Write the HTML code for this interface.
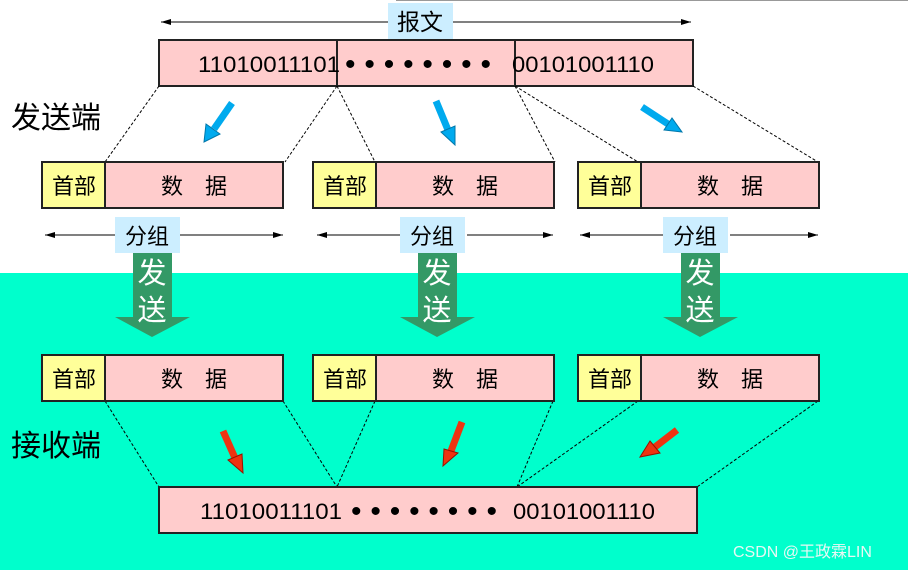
<!DOCTYPE html>
<html><head><meta charset="utf-8"><style>
html,body{margin:0;padding:0;background:#fff}
svg{display:block}
text{font-family:"Liberation Sans","Noto Sans CJK SC",sans-serif}
</style></head><body>
<svg width="908" height="570" viewBox="0 0 908 570" xmlns="http://www.w3.org/2000/svg">
<defs>
<marker id="ah" markerWidth="10" markerHeight="8" refX="10" refY="4" orient="auto" markerUnits="userSpaceOnUse"><path d="M0,1 L10,4 L0,7 Z" fill="#000"/></marker>
</defs>
<rect x="0" y="273" width="908" height="297" fill="#00FFCC"/>
<line x1="396" y1="0.5" x2="908" y2="0.5" stroke="#999" stroke-width="1"/>

<!-- top message -->
<line x1="388" y1="22" x2="161" y2="22" stroke="#000" marker-end="url(#ah)"/>
<line x1="453" y1="22" x2="691" y2="22" stroke="#000" marker-end="url(#ah)"/>
<rect x="388" y="3" width="65" height="37" fill="#CCEEFF"/>
<text x="420" y="30" font-size="23" text-anchor="middle">报文</text>
<rect x="159" y="40" width="534" height="46" fill="#FFCCCC" stroke="#222" stroke-width="2"/>
<line x1="337" y1="40" x2="337" y2="86" stroke="#222" stroke-width="2"/>
<line x1="515" y1="40" x2="515" y2="86" stroke="#222" stroke-width="2"/>
<text x="198" y="72" font-size="22" textLength="142" lengthAdjust="spacingAndGlyphs">11010011101</text>
<text x="345" y="74" font-size="30" textLength="146" lengthAdjust="spacing">••••••••</text>
<text x="512" y="72" font-size="22" textLength="142" lengthAdjust="spacingAndGlyphs">00101001110</text>

<g stroke="#000" stroke-dasharray="3,2" stroke-width="1" fill="none">
<line x1="159" y1="86" x2="105" y2="162"/>
<line x1="337" y1="86" x2="285" y2="162"/>
<line x1="337" y1="86" x2="375" y2="162"/>
<line x1="515" y1="86" x2="555" y2="162"/>
<line x1="515" y1="86" x2="638" y2="162"/>
<line x1="693" y1="86" x2="818" y2="162"/>
<line x1="105" y1="401" x2="159" y2="487"/>
<line x1="283" y1="401" x2="337" y2="487"/>
<line x1="375" y1="401" x2="337" y2="487"/>
<line x1="553" y1="401" x2="517" y2="487"/>
<line x1="638" y1="401" x2="517" y2="487"/>
<line x1="818" y1="401" x2="697" y2="487"/>
</g>

<text x="11" y="128" font-size="30">发送端</text>
<text x="11" y="456" font-size="30">接收端</text>

<!-- packets -->
<g id="pk">
<rect x="42" y="162" width="63" height="46" fill="#FFFF99" stroke="#222" stroke-width="2"/>
<rect x="105" y="162" width="178" height="46" fill="#FFCCCC" stroke="#222" stroke-width="2"/>
<text x="74" y="194" font-size="22" text-anchor="middle">首部</text>
<text x="194" y="194" font-size="22" text-anchor="middle">数　据</text>
</g>
<use href="#pk" x="271"/>
<use href="#pk" x="536"/>
<use href="#pk" y="193"/>
<use href="#pk" x="271" y="193"/>
<use href="#pk" x="536" y="193"/>

<!-- packet arrows -->
<g stroke="#000" marker-end="url(#ah)">
<line x1="115" y1="235" x2="45" y2="235"/><line x1="180" y1="235" x2="283" y2="235"/>
<line x1="402" y1="235" x2="317" y2="235"/><line x1="467" y1="235" x2="553" y2="235"/>
<line x1="665" y1="235" x2="580" y2="235"/><line x1="730" y1="235" x2="818" y2="235"/>
</g>
<g id="gp">
<rect x="115" y="217" width="65" height="36" fill="#CCEEFF"/>
<text x="147" y="244" font-size="22" text-anchor="middle">分组</text>
<path d="M133,253 H172 V317 H190 L152,337 L115,317 H133 Z" fill="#339966"/>
<text x="152" y="283" font-size="29" fill="#fff" text-anchor="middle">发</text>
<text x="152" y="320" font-size="29" fill="#fff" text-anchor="middle">送</text>
</g>
<use href="#gp" x="285"/>
<use href="#gp" x="548"/>

<!-- blue arrows -->
<g stroke="#00AAEE" stroke-width="7" fill="#00AAEE">
<line x1="232" y1="103" x2="214" y2="129"/>
<line x1="436" y1="101" x2="448" y2="130"/>
<line x1="642" y1="107" x2="668" y2="124"/>
</g>
<g fill="#00AAEE" stroke="#0077AA" stroke-width="1">
<path d="M206,124 L220,134 L204,142 Z"/>
<path d="M441,132 L455,126 L455,145 Z"/>
<path d="M664,130 L672,118 L682,132 Z"/>
</g>
<!-- red arrows -->
<g stroke="#EE3311" stroke-width="7">
<line x1="223" y1="431" x2="235" y2="458"/>
<line x1="462" y1="422" x2="451" y2="451"/>
<line x1="677" y1="430" x2="655" y2="447"/>
</g>
<g fill="#EE3311" stroke="#991100" stroke-width="1">
<path d="M228,460 L242,454 L243,473 Z"/>
<path d="M444,449 L458,453 L443,466 Z"/>
<path d="M650,441 L660,453 L640,457 Z"/>
</g>

<!-- bottom message -->
<rect x="159" y="487" width="538" height="46" fill="#FFCCCC" stroke="#222" stroke-width="2"/>
<text x="200" y="519" font-size="22" textLength="142" lengthAdjust="spacingAndGlyphs">11010011101</text>
<text x="351" y="521" font-size="30" textLength="146" lengthAdjust="spacing">••••••••</text>
<text x="513" y="519" font-size="22" textLength="142" lengthAdjust="spacingAndGlyphs">00101001110</text>

<text x="733" y="557" font-size="16" fill="#E8F8F4">CSDN @王政霖LIN</text>
</svg>
</body></html>
